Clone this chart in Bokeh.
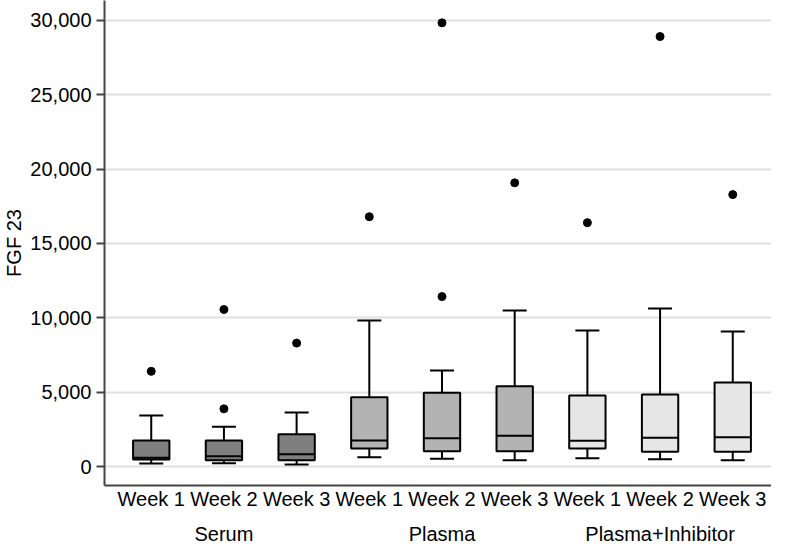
from bokeh.plotting import figure
from bokeh.models import (ColumnDataSource, Range1d, FixedTicker, LinearAxis,
                          NumeralTickFormatter, Whisker, TeeHead)
from bokeh.embed import file_html
from bokeh.resources import INLINE

# ---- data ----
groups = ["Serum", "Plasma", "Plasma+Inhibitor"]
weeks = ["Week 1", "Week 2", "Week 3"]
positions = [1, 2, 3, 4, 5, 6, 7, 8, 9]
group_positions = [2, 5, 8]
box_colors = ["#7f7f7f", "#7f7f7f", "#7f7f7f",
              "#b3b3b3", "#b3b3b3", "#b3b3b3",
              "#e6e6e6", "#e6e6e6", "#e6e6e6"]

whisk_lo = [200, 225, 135, 630, 515, 425, 560, 490, 425]
q1 = [470, 425, 425, 1210, 1030, 1030, 1210, 985, 985]
median = [590, 695, 830, 1750, 1905, 2060, 1725, 1930, 1975]
q3 = [1750, 1750, 2175, 4660, 4955, 5400, 4775, 4840, 5650]
whisk_hi = [3430, 2670, 3630, 9820, 6460, 10490, 9150, 10630, 9080]

out_x = [1, 2, 2, 3, 4, 5, 5, 6, 7, 8, 9]
out_y = [6400, 3880, 10560, 8300, 16800, 11430, 29840, 19080, 16400, 28920, 18290]

y_ticks = [0, 5000, 10000, 15000, 20000, 25000, 30000]

FONT = "Liberation Sans"
box_w = 0.5

src = ColumnDataSource(dict(
    x=positions, lo=whisk_lo, q1=q1, med=median, q3=q3, hi=whisk_hi,
    color=box_colors,
    xl=[v - box_w / 2 for v in positions],
    xr=[v + box_w / 2 for v in positions],
))

p = figure(width=771, height=548, output_backend="svg", toolbar_location=None,
           x_range=Range1d(0.357, 9.533), y_range=Range1d(-1278, 31345),
           x_axis_type=None, y_axis_location="left",
           min_border_left=100, min_border_right=0, min_border_top=0,
           min_border_bottom=63)
p.outline_line_color = None
p.background_fill_color = "white"
p.border_fill_color = "white"

# grid
p.xgrid.visible = False
p.ygrid.ticker = FixedTicker(ticks=y_ticks)
p.ygrid.grid_line_color = "#e0e0e0"
p.ygrid.grid_line_width = 2

# y axis
ya = p.yaxis[0]
ya.ticker = FixedTicker(ticks=y_ticks)
ya.formatter = NumeralTickFormatter(format="0,0")
ya.axis_label = "FGF 23"
ya.axis_label_text_font = FONT
ya.axis_label_text_font_size = "20px"
ya.axis_label_text_font_style = "normal"
ya.axis_label_text_color = "black"
ya.axis_label_standoff = 2
ya.major_label_text_font = FONT
ya.major_label_text_font_size = "20px"
ya.major_label_text_color = "black"
ya.major_label_standoff = 5
ya.major_tick_out = 8
ya.major_tick_in = 0
ya.minor_tick_out = 0
ya.minor_tick_in = 0
ya.major_tick_line_color = "#444444"
ya.major_tick_line_width = 2
ya.axis_line_color = "#444444"
ya.axis_line_width = 2

# x axis: week labels
xa = LinearAxis(ticker=FixedTicker(ticks=positions),
                major_label_overrides={pos: w for pos, w in zip(positions, weeks * 3)})
xa.major_tick_out = 0
xa.major_tick_in = 0
xa.minor_tick_out = 0
xa.minor_tick_in = 0
xa.major_label_standoff = 2
xa.major_label_text_font = FONT
xa.major_label_text_font_size = "20px"
xa.major_label_text_color = "black"
xa.axis_line_color = "#444444"
xa.axis_line_width = 2
p.add_layout(xa, "below")

# x axis: group labels
ga = LinearAxis(ticker=FixedTicker(ticks=group_positions),
                major_label_overrides={pos: g for pos, g in zip(group_positions, groups)})
ga.major_tick_out = 0
ga.major_tick_in = 0
ga.minor_tick_out = 0
ga.minor_tick_in = 0
ga.major_label_standoff = 10
ga.major_label_text_font = FONT
ga.major_label_text_font_size = "20px"
ga.major_label_text_color = "black"
ga.axis_line_color = None
p.add_layout(ga, "below")

# whiskers
up = Whisker(source=src, base="x", upper="hi", lower="q3",
             upper_head=TeeHead(size=24, line_width=2, line_color="black"),
             lower_head=None, line_width=2, line_color="black", level="glyph")
dn = Whisker(source=src, base="x", upper="q1", lower="lo",
             lower_head=TeeHead(size=24, line_width=2, line_color="black"),
             upper_head=None, line_width=2, line_color="black", level="glyph")
p.add_layout(up)
p.add_layout(dn)

# boxes
p.vbar(x="x", width=box_w, bottom="q1", top="q3", source=src,
       fill_color="color", line_color="black", line_width=2)
p.segment(x0="xl", y0="med", x1="xr", y1="med", source=src,
          line_color="black", line_width=2)

# outliers
p.scatter(out_x, out_y, size=8, color="black")

open("out.html", "w").write(file_html(p, INLINE))
